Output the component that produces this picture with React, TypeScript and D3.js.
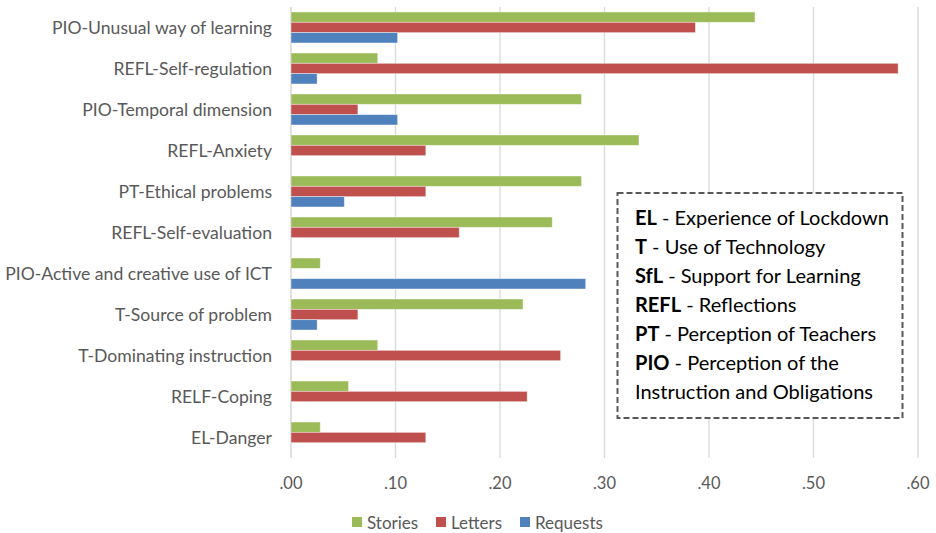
import React from 'react';
import * as d3 from 'd3';

const categories = [
  'PIO-Unusual way of learning',
  'REFL-Self-regulation',
  'PIO-Temporal dimension',
  'REFL-Anxiety',
  'PT-Ethical problems',
  'REFL-Self-evaluation',
  'PIO-Active and creative use of ICT',
  'T-Source of problem',
  'T-Dominating instruction',
  'RELF-Coping',
  'EL-Danger',
];

const stories = [0.444, 0.083, 0.278, 0.333, 0.278, 0.25, 0.028, 0.222, 0.083, 0.055, 0.028];
const letters = [0.387, 0.581, 0.064, 0.129, 0.129, 0.161, 0, 0.064, 0.258, 0.226, 0.129];
const requests = [0.102, 0.025, 0.102, 0, 0.051, 0, 0.282, 0.025, 0, 0, 0];

const seriesNames = ['Stories', 'Letters', 'Requests'];
const seriesColors = ['#9BBB59', '#C0504D', '#4F81BD'];
const xTicks = [0, 0.1, 0.2, 0.3, 0.4, 0.5, 0.6];

const boxLines: [string, string][] = [
  ['EL', ' - Experience of Lockdown'],
  ['T', ' - Use of Technology'],
  ['SfL', ' - Support for Learning'],
  ['REFL', ' - Reflections'],
  ['PT', ' - Perception of Teachers'],
  ['PIO', ' - Perception of the'],
  ['', 'Instruction and Obligations'],
];

const W = 936;
const H = 533;
const margin = { top: 7, right: 18, bottom: 75, left: 291 };
const FONT = 'Lato, "Open Sans", sans-serif';

export default function App() {
  const series = [stories, letters, requests];
  const x = d3.scaleLinear().domain([0, 0.6]).range([margin.left, W - margin.right]);
  const y = d3.scaleBand<string>().domain(categories).range([margin.top, H - margin.bottom]).paddingInner(0.245).paddingOuter(0.122);
  const inner = d3.scaleBand<number>().domain([0, 1, 2]).range([0, y.bandwidth()]);
  const fmt = (d: number) => d3.format('.2f')(d).replace(/^0/, '');

  return (
    <svg width={W} height={H} style={{ position: 'absolute', left: 0, top: 0, background: '#fff' }}>
      {xTicks.map((t) => (
        <line key={'g' + t} x1={x(t)} x2={x(t)} y1={margin.top} y2={H - margin.bottom} stroke={t === 0 ? '#d0d0d0' : '#d9d9d9'} strokeWidth={1.3} />
      ))}
      {categories.map((c, i) => (
        <g key={c}>
          {series.map((s, k) =>
            s[i] > 0 ? (
              <rect
                key={k}
                x={x(0)}
                y={(y(c) as number) + (inner(k) as number)}
                width={x(s[i]) - x(0)}
                height={inner.bandwidth()}
                fill={seriesColors[k]}
                stroke="#ffffff"
                strokeOpacity={0.5}
                strokeWidth={0.8}
              />
            ) : null
          )}
          <text
            x={272}
            y={(y(c) as number) + y.bandwidth() / 2}
            textAnchor="end"
            dominantBaseline="central"
            fontFamily={FONT}
            fontSize={17.6}
            fill="#595959"
          >
            {c}
          </text>
        </g>
      ))}
      {xTicks.map((t) => (
        <text key={'t' + t} x={x(t)} y={483} textAnchor="middle" dominantBaseline="central" fontFamily={FONT} fontSize={16.5} fill="#595959">
          {fmt(t)}
        </text>
      ))}
      {seriesNames.map((n, k) => {
        const lx = [352, 436, 520][k];
        return (
          <g key={n}>
            <rect x={lx} y={517} width={10} height={10} fill={seriesColors[k]} />
            <text x={lx + 15} y={522} dominantBaseline="central" fontFamily={FONT} fontSize={17} fill="#595959">
              {n}
            </text>
          </g>
        );
      })}
      <rect x={617.5} y={193} width={285} height={225} fill="#fff" stroke="#595959" strokeWidth={2} strokeDasharray="6 3" />
      {boxLines.map(([b, r], i) => (
        <text key={i} x={635} y={217 + i * 29} dominantBaseline="central" fontFamily={FONT} fontSize={20} fill="#000">
          {b ? <tspan fontWeight="bold">{b}</tspan> : null}
          <tspan>{r}</tspan>
        </text>
      ))}
    </svg>
  );
}
